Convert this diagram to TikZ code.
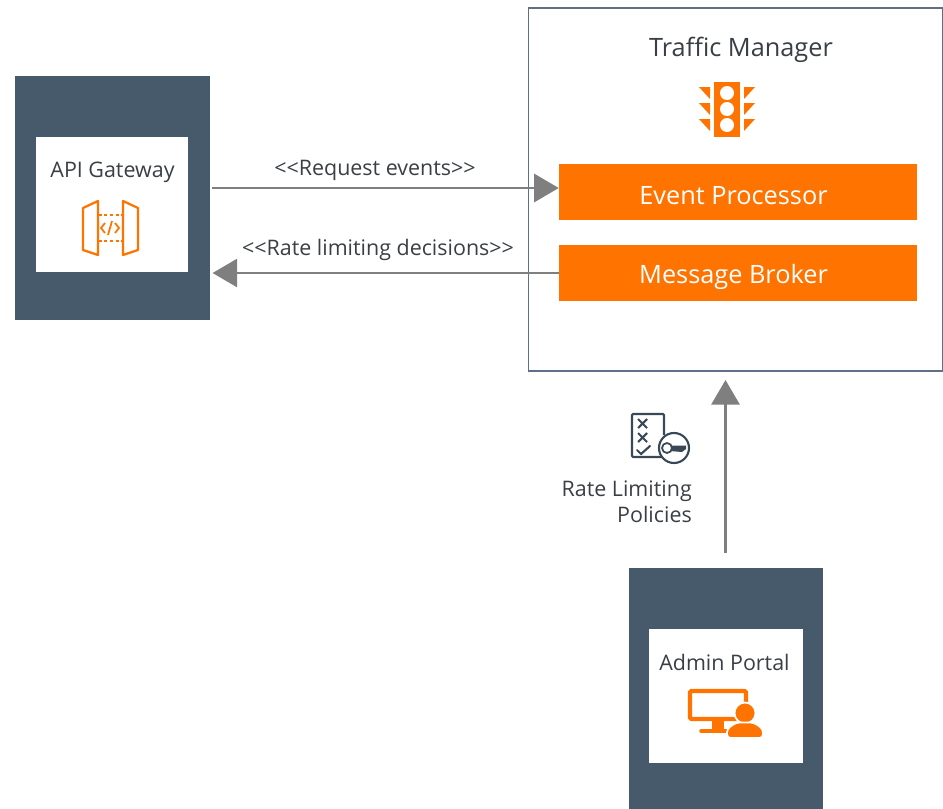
\documentclass[tikz,border=0pt]{standalone}
\usepackage{fontspec}
\setmainfont{Open Sans}
\usetikzlibrary{arrows.meta}
\definecolor{slate}{HTML}{475A6B}
\definecolor{orng}{HTML}{FF7300}
\definecolor{ink}{HTML}{3A3F45}
\definecolor{flow}{HTML}{7F7F7F}
\definecolor{frame}{HTML}{5F6F85}
\tikzset{
  panel/.style={fill=slate, draw=none, inner sep=0pt},
  card/.style={fill=white, draw=none, inner sep=0pt},
  bar/.style={fill=orng, draw=none, inner sep=0pt},
  barlbl/.style={text=white, inner sep=0pt, font=\fontsize{21.6}{26}\selectfont},
  lbl/.style={text=ink, inner sep=0pt, font=\fontsize{18.3}{22}\selectfont},
  flowline/.style={draw=flow, line width=2.2pt, -{Triangle[length=21pt,width=24pt]}},
  iconline/.style={draw=orng, line width=1.9pt},
  keyline/.style={draw=slate!80!black, line width=1.8pt}
}
\begin{document}
\begin{tikzpicture}[x=0.03cm,y=-0.03cm]
\useasboundingbox (0,0) rectangle (943,809);
% gateway
\node[panel, minimum width=5.85cm, minimum height=7.32cm] (gateway) at (112.5,198){};
\node[card, minimum width=4.56cm, minimum height=4.05cm] (gatewaycard) at (112,204.5){};
\node[lbl] (gatewaylbl) at (112.5,172){API Gateway};
% traffic manager
\node[draw=frame, line width=1.7pt, fill=white, inner sep=0pt, minimum width=12.42cm, minimum height=10.86cm] (manager) at (735.5,189.5){};
\node[barlbl, text=ink] (managerlbl) at (741,50){Traffic Manager};
\node[bar, minimum width=10.74cm, minimum height=1.68cm] (processor) at (738,192){};
\node[barlbl] (processorlbl) at (733.5,196){Event Processor};
\node[bar, minimum width=10.74cm, minimum height=1.68cm] (broker) at (738,273){};
\node[barlbl] (brokerlbl) at (733.5,277){Message Broker};
% admin
\node[panel, minimum width=5.82cm, minimum height=7.23cm] (admin) at (726,688.5){};
\node[card, minimum width=4.62cm, minimum height=4.02cm] (admincard) at (726,696){};
\node[lbl] (adminlbl) at (724.5,662.5){Admin Portal};
% flows
\coordinate (gatewayout) at (212,188);
\draw[flowline] (gatewayout) -- (gatewayout -| processor.west);
\draw[flowline, shorten >=2pt] (broker.west) -- (broker.west -| gateway.east);
\coordinate (adminout) at (725.5,553);
\draw[flowline] (adminout) -- (adminout |- 0,380);
\node[lbl] (requestlbl) at (375,170.5){<{}<Request events>{}>};
\node[lbl] (decisionlbl) at (378,249.5){<{}<Rate limiting decisions>{}>};
\node[lbl, align=right, anchor=north east] (policylbl) at (692,481){Rate Limiting\\Policies};
% gateway icon
\draw[iconline, line join=round] (83,208) -- (98,201) -- (98,255) -- (83,250) -- cycle;
\draw[iconline, line join=round] (138,208) -- (123,201) -- (123,255) -- (138,250) -- cycle;
\draw[iconline, dash pattern=on 3pt off 2pt] (98,215) -- (123,215);
\draw[iconline, dash pattern=on 3pt off 2pt] (98,241) -- (123,241);
\draw[iconline, line width=1.5pt] (105,223) -- (101,228) -- (105,233);
\draw[iconline, line width=1.5pt] (115,223) -- (119,228) -- (115,233);
\draw[iconline, line width=1.5pt] (112,221) -- (108,235);
% traffic light icon
\fill[orng] (714,82) rectangle (740,137);
\foreach \y in {93,109,125}{
  \fill[white] (727,\y) circle (7);
  \fill[orng] (699,\y-6) -- (710,\y-6) -- (710,\y+6) -- cycle;
  \fill[orng] (755,\y-6) -- (744,\y-6) -- (744,\y+6) -- cycle;
}
% policy icon
\draw[keyline, rounded corners=1pt] (662,457) -- (632,457) -- (632,414) -- (664,414) -- (664,435);
\draw[keyline] (638,419) -- (647,428) (647,419) -- (638,428);
\draw[keyline] (638,433) -- (647,442) (647,433) -- (638,442);
\draw[keyline, line cap=round] (637,450) -- (641,454) -- (650,446);
\draw[keyline, fill=white] (674,448) circle (15);
\fill[slate!80!black] (670,445.5) -- (686,445.5) -- (686,449) -- (682,452) -- (670,451) -- cycle;
\draw[keyline, line width=1.5pt, fill=white] (667,448) circle (5);
% admin icon
\draw[orng, line width=3.5pt, rounded corners=1pt] (690,691) rectangle (746,719);
\fill[orng] (712,719) rectangle (724,731);
\draw[orng, line width=3pt, line cap=round] (701,731) -- (731,731);
\fill[orng, draw=white, line width=1.5pt] (745,713) circle (10.5);
\fill[orng, draw=white, line width=1.5pt, rounded corners=3pt] (727,738) -- (727,729) -- (736,722.5) -- (754,722.5) -- (763,729) -- (763,738) -- cycle;
\end{tikzpicture}
\end{document}
